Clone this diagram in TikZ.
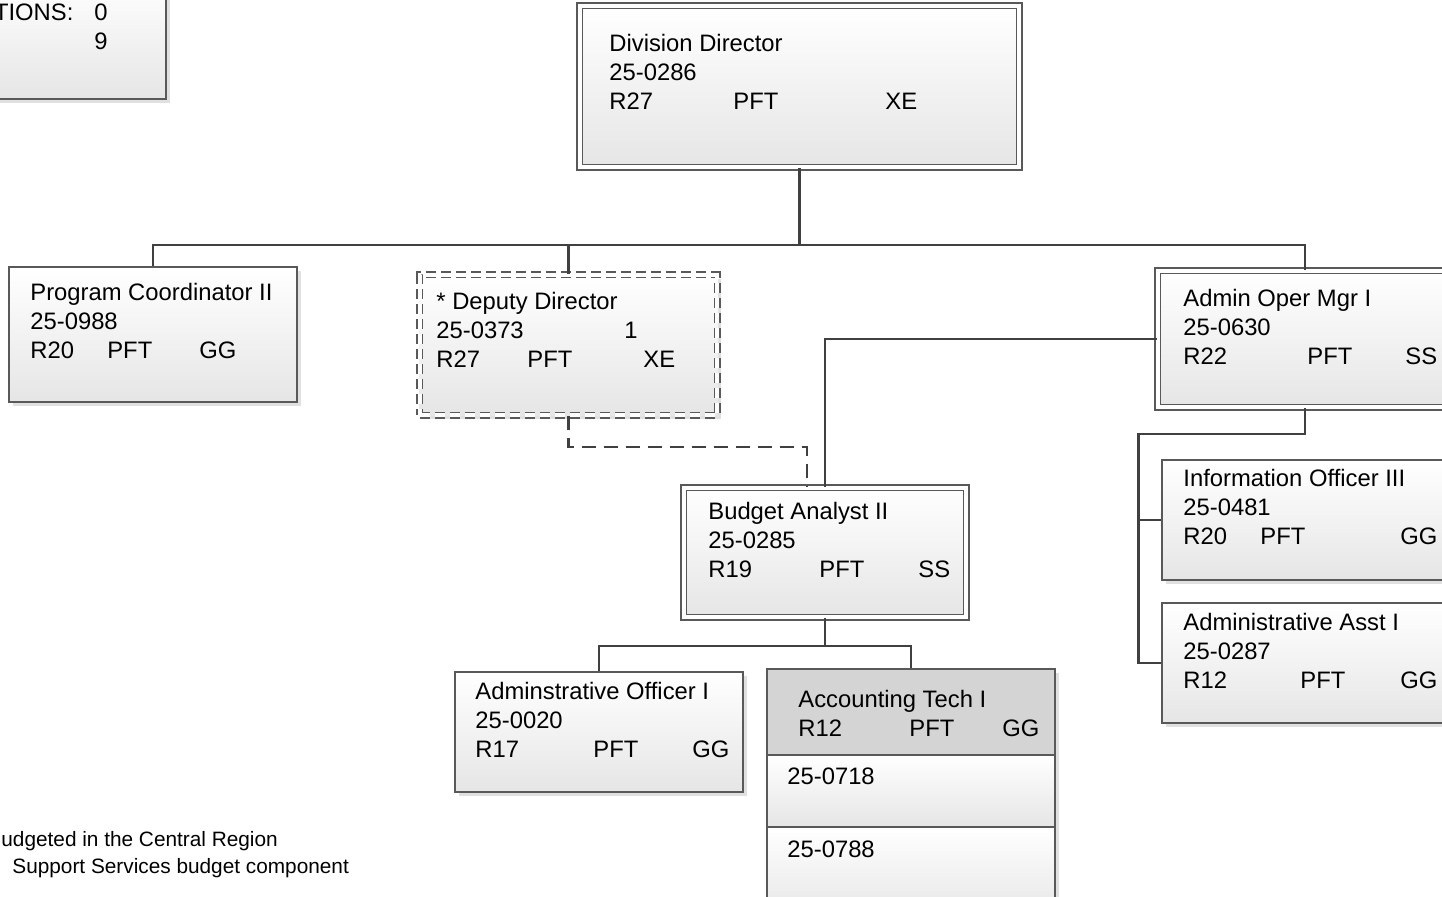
\documentclass[tikz,border=0pt]{standalone}
\usepackage{fontspec}
\setmainfont{Liberation Sans}
\usetikzlibrary{fit,calc,shadows}
\begin{document}
\begin{tikzpicture}[x=0.5pt,y=-0.5pt]
  \tikzstyle{every node}=[font=\fontsize{11.9}{14.5}\selectfont]
  \tikzstyle{box}=[draw=black!65,line width=0.7pt,inner sep=0pt,top color=white,bottom color=black!10,
    drop shadow={shadow xshift=2pt,shadow yshift=-2pt,fill=black!30,opacity=0.4}]
  \tikzstyle{dbox}=[box,double=white,double distance=2pt,inner sep=-1.35pt]
  \tikzstyle{txt}=[anchor=north west,inner sep=0pt,align=left]
  \tikzstyle{line}=[draw=black!75,line width=1.2pt]
  \useasboundingbox (0,0) rectangle (1442,896);
  \clip (0,0) rectangle (1442,896);
  % legend, cut at the edge
  \node[box,fit={(-20,-20) (166,99)}] (legend) {};
  \node[txt,anchor=north east,align=right] (legendText) at (108,3.5) {TIONS:\hspace{10.5pt}0\\9};
  % boxes
  \node[dbox,fit={(577,3) (1022,170)}] (director) {};
  \node[box,fit={(9,267) (297,402)}] (progCoord) {};
  \node[dbox,dashed,dash pattern=on 5pt off 2.5pt,fit={(417,272) (720,418)}] (deputy) {};
  \node[dbox,fit={(1155,268) (1455,410)}] (adminMgr) {};
  \node[box,fit={(1162,460) (1470,580)}] (infoOff) {};
  \node[box,fit={(1162,603) (1470,723)}] (adminAsst) {};
  \node[dbox,fit={(681,485) (969,620)}] (budget) {};
  \node[box,fit={(455,672) (743,792)}] (adminOff) {};
  \node[box,top color=black!17,bottom color=black!17,fit={(767,669) (1055,755)}] (acctTech) {};
  \node[box,fit={(767,755) (1055,827)}] (acctPosA) {};
  \node[box,fit={(767,827) (1055,920)}] (acctPosB) {};
  % texts
  \node[txt] (directorText) at (609,33.5) {Division Director\\25-0286\\\makebox[62pt][l]{R27}\makebox[76pt][l]{PFT}XE};
  \node[txt] (progCoordText) at (30,282.5) {Program Coordinator II\\25-0988\\\makebox[38.5pt][l]{R20}\makebox[46pt][l]{PFT}GG};
  \node[txt] (deputyText) at (436,291.5) {* Deputy Director\\\makebox[94pt][l]{25-0373}1\\\makebox[45.5pt][l]{R27}\makebox[58pt][l]{PFT}XE};
  \node[txt] (adminMgrText) at (1183,288.5) {Admin Oper Mgr I\\25-0630\\\makebox[62pt][l]{R22}\makebox[49pt][l]{PFT}SS};
  \node[txt] (infoOffText) at (1183,468.5) {Information Officer III\\25-0481\\\makebox[38.5pt][l]{R20}\makebox[70pt][l]{PFT}GG};
  \node[txt] (adminAsstText) at (1183,612.5) {Administrative Asst I\\25-0287\\\makebox[58.5pt][l]{R12}\makebox[50pt][l]{PFT}GG};
  \node[txt] (budgetText) at (708,501.5) {Budget Analyst II\\25-0285\\\makebox[55.5pt][l]{R19}\makebox[49.5pt][l]{PFT}SS};
  \node[txt] (adminOffText) at (475,681.5) {Adminstrative Officer I\\25-0020\\\makebox[59pt][l]{R17}\makebox[49.5pt][l]{PFT}GG};
  \node[txt] (acctTechText) at (798,689.5) {Accounting Tech I\\\makebox[55.5pt][l]{R12}\makebox[46.5pt][l]{PFT}GG};
  \node[txt] (acctPosAText) at (787,767.5) {25-0718};
  \node[txt] (acctPosBText) at (787,840.5) {25-0788};
  % notes
  \node[anchor=base west,inner sep=0pt,font=\fontsize{10.4}{13}\selectfont] (noteA) at (1,846.5) {udgeted in the Central Region};
  \node[anchor=base west,inner sep=0pt,font=\fontsize{10.4}{13}\selectfont] (noteB) at (12,873.5) {Support Services budget component};
  % connectors
  \draw[line] (director.south) -- ++(0,77) -| (progCoord.north);
  \draw[line] (director.south) -- ++(0,77) -| (deputy.north);
  \draw[line] (director.south) -- ++(0,77) -| (adminMgr.north);
  \draw[line,dash pattern=on 7pt off 4pt] (deputy.south) -- ++(0,31) -| ($(budget.north)+(-18,0)$);
  \draw[line] (adminMgr.west) -| (budget.north);
  \coordinate (rightBus) at ($(infoOff.west)+(-23,0)$);
  \draw[line] (adminMgr.south) -- ++(0,26) -| (rightBus) |- (adminAsst.west);
  \draw[line] (rightBus) -- (infoOff.west);
  \draw[line] (budget.south) -- ++(0,28) -| (adminOff.north);
  \draw[line] (budget.south) -- ++(0,28) -| (acctTech.north);
\end{tikzpicture}
\end{document}
